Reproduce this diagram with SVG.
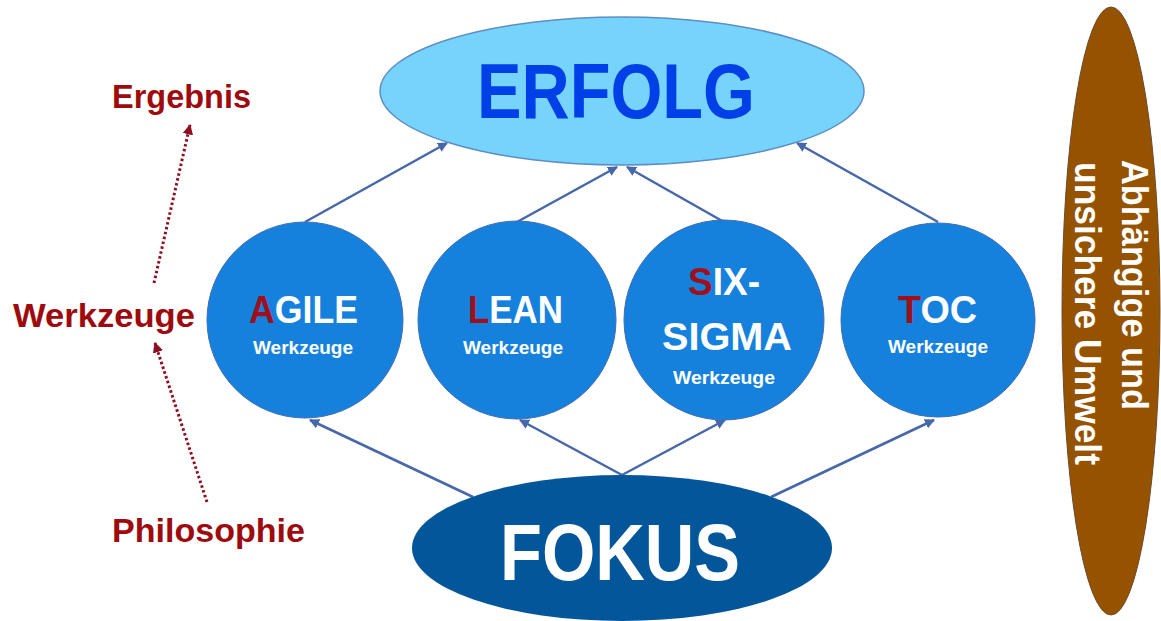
<svg xmlns="http://www.w3.org/2000/svg" width="1161" height="621" viewBox="0 0 1161 621">
<style>
  .lbl{font-family:"Liberation Sans",Arial,sans-serif;font-weight:bold;fill:#9E0B0F;font-size:34px}
  .big{font-family:"Liberation Sans",Arial,sans-serif;font-weight:bold;text-anchor:middle}
  .circ{fill:#1681DD;stroke:#3F6DB3;stroke-width:1}
  .ttl{font-family:"Liberation Sans",Arial,sans-serif;font-weight:bold;font-size:38px;fill:#FFFFFF;text-anchor:middle}
  .red{fill:#A0101C}
  .sub{font-family:"Liberation Sans",Arial,sans-serif;font-weight:bold;font-size:18px;fill:#FFFFFF;text-anchor:middle}
  .conn{stroke:#4767AB;stroke-width:2.5;fill:none;marker-end:url(#ah)}
  .dot{stroke:#8E1020;stroke-width:3;fill:none;stroke-dasharray:2.5 2.5;marker-end:url(#rh)}
  .env{font-family:"Liberation Sans",Arial,sans-serif;font-weight:bold;font-size:36px;fill:#FFFFFF}
</style>
<defs>
  <marker id="ah" viewBox="0 0 10 10" refX="9" refY="5" markerWidth="4" markerHeight="4" orient="auto" markerUnits="strokeWidth">
    <path d="M0,0 L10,5 L0,10 z" fill="#4767AB"/>
  </marker>
  <marker id="rh" viewBox="0 0 10 10" refX="9" refY="5" markerWidth="3.5" markerHeight="3.5" orient="auto" markerUnits="strokeWidth">
    <path d="M0,0 L10,5 L0,10 z" fill="#8E1020"/>
  </marker>
</defs>
<rect width="1161" height="621" fill="#FFFFFF"/>

<g id="connectors">
  <line class="conn" x1="305" y1="222" x2="447" y2="143"/>
  <line class="conn" x1="517" y1="222" x2="617" y2="167"/>
  <line class="conn" x1="724" y1="222" x2="627" y2="167"/>
  <line class="conn" x1="938" y1="222" x2="797" y2="143"/>
  <line class="conn" x1="473" y1="497" x2="310" y2="420"/>
  <line class="conn" x1="622" y1="475" x2="520" y2="420"/>
  <line class="conn" x1="622" y1="475" x2="725" y2="420"/>
  <line class="conn" x1="771" y1="497" x2="934" y2="420"/>
  <line class="dot" x1="207" y1="502" x2="155" y2="343"/>
  <line class="dot" x1="154" y1="283" x2="190" y2="125"/>
</g>

<g id="erfolg">
  <ellipse cx="622" cy="91" rx="242" ry="74" fill="#75D3FC" stroke="#5E8EC4" stroke-width="1.5"/>
  <text class="big" x="616" y="118" font-size="78" fill="#0040E6" textLength="278" lengthAdjust="spacingAndGlyphs">ERFOLG</text>
</g>

<g id="fokus">
  <ellipse cx="622" cy="548" rx="210" ry="73" fill="#03569A"/>
  <text class="big" x="620" y="580" font-size="80" fill="#FFFFFF" textLength="240" lengthAdjust="spacingAndGlyphs">FOKUS</text>
</g>

<g id="agile">
  <circle class="circ" cx="305" cy="320" r="98"/>
  <text class="ttl" x="303.5" y="323" textLength="109" lengthAdjust="spacingAndGlyphs"><tspan class="red">A</tspan>GILE</text>
  <text class="sub" x="303" y="354" textLength="100" lengthAdjust="spacingAndGlyphs">Werkzeuge</text>
</g>

<g id="lean">
  <circle class="circ" cx="517" cy="320" r="99"/>
  <text class="ttl" x="515.5" y="323" textLength="95" lengthAdjust="spacingAndGlyphs"><tspan class="red">L</tspan>EAN</text>
  <text class="sub" x="513" y="354" textLength="100" lengthAdjust="spacingAndGlyphs">Werkzeuge</text>
</g>

<g id="sixsigma">
  <circle class="circ" cx="724" cy="320" r="100"/>
  <text class="ttl" x="724" y="295" textLength="72" lengthAdjust="spacingAndGlyphs"><tspan class="red">S</tspan>IX-</text>
  <text class="ttl" x="727" y="350" textLength="130" lengthAdjust="spacingAndGlyphs">SIGMA</text>
  <text class="sub" x="724" y="384" textLength="102" lengthAdjust="spacingAndGlyphs">Werkzeuge</text>
</g>

<g id="toc">
  <circle class="circ" cx="938" cy="320" r="97"/>
  <text class="ttl" x="937.5" y="323" textLength="79" lengthAdjust="spacingAndGlyphs"><tspan class="red">T</tspan>OC</text>
  <text class="sub" x="938" y="353" textLength="100" lengthAdjust="spacingAndGlyphs">Werkzeuge</text>
</g>

<g id="umwelt">
  <ellipse cx="1111" cy="311" rx="49" ry="304" fill="#955300" stroke="#6E4A2A" stroke-width="1"/>
  <text class="env" transform="translate(1122,160) rotate(90)" textLength="250" lengthAdjust="spacingAndGlyphs">Abhängige und</text>
  <text class="env" transform="translate(1075,162) rotate(90)" textLength="303" lengthAdjust="spacingAndGlyphs">unsichere Umwelt</text>
</g>

<g id="ergebnis"><text class="lbl" x="112" y="108" font-size="32" textLength="139" lengthAdjust="spacingAndGlyphs">Ergebnis</text></g>
<g id="werkzeuge"><text class="lbl" x="13" y="327" textLength="182" lengthAdjust="spacingAndGlyphs">Werkzeuge</text></g>
<g id="philosophie"><text class="lbl" x="112" y="542" textLength="193" lengthAdjust="spacingAndGlyphs">Philosophie</text></g>
</svg>
